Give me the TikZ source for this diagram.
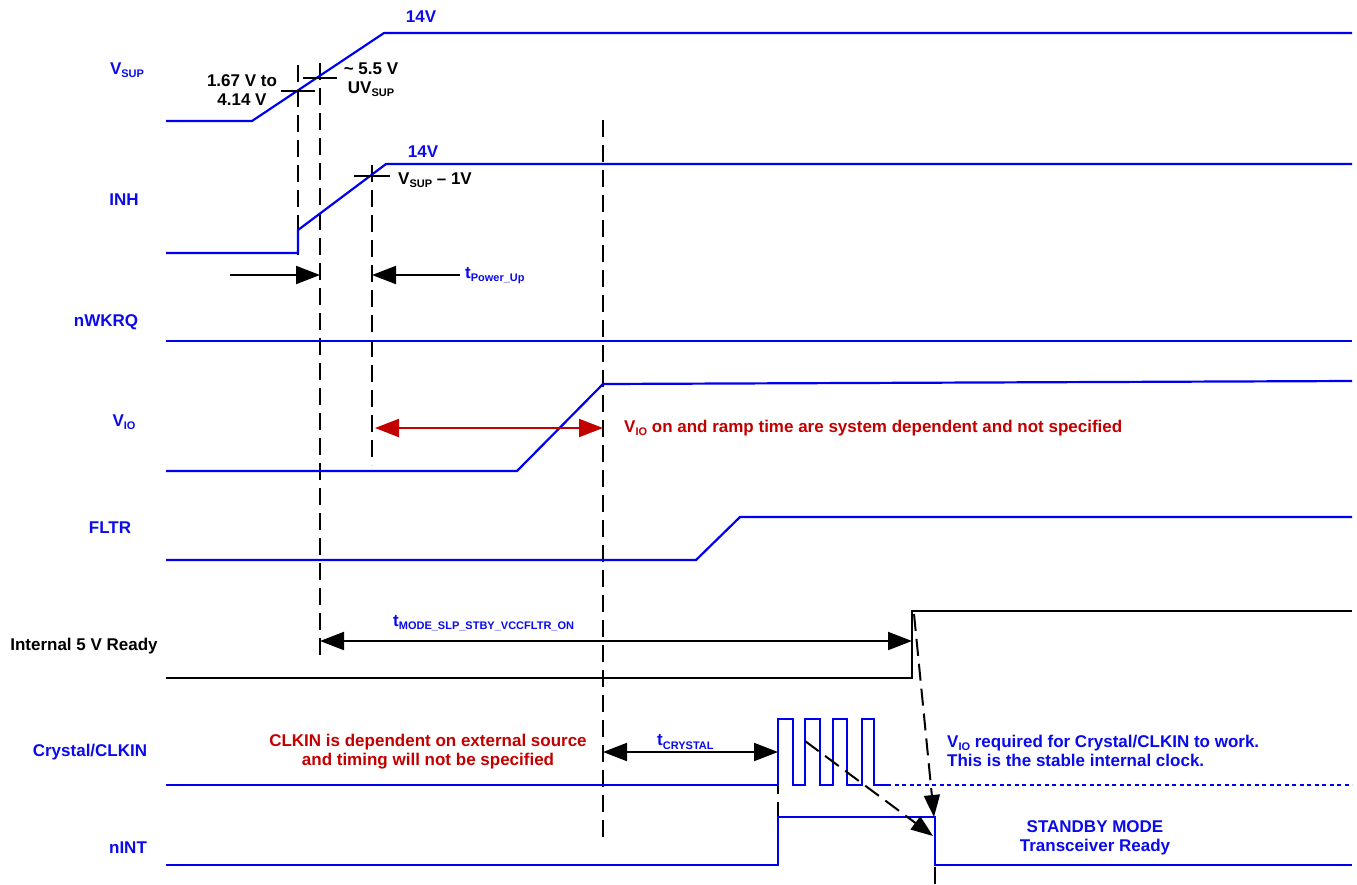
\documentclass[tikz,border=0pt]{standalone}
\usepackage{fontspec}
\setmainfont{Liberation Sans}
\usetikzlibrary{arrows.meta}
\definecolor{sigblue}{RGB}{0,0,240}
\definecolor{txtblue}{RGB}{10,10,235}
\definecolor{txtred}{RGB}{195,0,0}
\newcommand\sbb[1]{\raisebox{-0.35ex}{\fontsize{11}{11}\selectfont #1}}
\begin{document}
\begin{tikzpicture}[x=1pt,y=-1pt,
  sig/.style={draw=sigblue,line width=2.2pt},
  ksig/.style={draw=black,line width=2.2pt},
  guide/.style={draw=black,line width=2pt,dash pattern=on 17pt off 8pt},
  tickmark/.style={draw=black,line width=1.6pt},
  tip/.tip={Triangle[length=24pt,width=18pt]},
  dim/.style={draw=black,line width=2pt,{tip}-{tip}},
  onearrow/.style={draw=black,line width=2pt,-{tip}},
  lbl/.style={font=\fontsize{17}{19}\selectfont\bfseries,text=txtblue,inner sep=0pt},
  klbl/.style={lbl,text=black},
  rlbl/.style={lbl,text=txtred},
]
\useasboundingbox (0,0) rectangle (1357,884);

% signal name labels
\node[lbl] (nVSUP) at (127,70) {V\sbb{SUP}};
\node[lbl] (nINH) at (124,200) {INH};
\node[lbl] (nWK) at (106,322) {nWKRQ};
\node[lbl] (nVIO) at (124,422) {V\sbb{IO}};
\node[lbl] (nFLTR) at (110,528) {FLTR};
\node[klbl] (nINT5) at (84,646) {Internal 5 V Ready};
\node[lbl] (nCLK) at (90,752) {Crystal/CLKIN};
\node[lbl] (nnINT) at (128,848) {nINT};

% coordinates
\coordinate (g1t) at (298,65);  \coordinate (g1b) at (298,255);
\coordinate (g2t) at (320,63);  \coordinate (g2b) at (320,660);
\coordinate (g3t) at (372,165); \coordinate (g3b) at (372,465);
\coordinate (g4t) at (603,120); \coordinate (g4b) at (603,838);
\coordinate (g5t) at (778,752); \coordinate (g5b) at (778,865);
\coordinate (g6t) at (935,817); \coordinate (g6b) at (935,884);

% dashed guide lines
\draw[guide] (g1t) -- (g1b);
\draw[guide] (g2t) -- (g2b);
\draw[guide] (g3t) -- (g3b);
\draw[guide] (g4t) -- (g4b);
\draw[guide] (g5t) -- (g5b);
\draw[guide] (g6t) -- (g6b);

% VSUP
\draw[sig] (166,121) -- (252,121) -- (384,33) -- (1352,33);
\node[lbl] (v14a) at (421,17) {14V};
\draw[tickmark] (281,91) -- (315,91);
\draw[tickmark] (303,78) -- (337,78);
\node[klbl,align=center] (uvlo) at (242,90) {1.67 V to\\4.14 V};
\node[klbl,align=center] (uvsup) at (371,80) {\textasciitilde{} 5.5 V\\UV\sbb{SUP}};

% INH
\draw[sig] (166,253) -- (298,253) -- (298,230) -- (386,164) -- (1352,164);
\node[lbl] (v14b) at (423,152) {14V};
\draw[tickmark] (354,176) -- (390,176);
\node[klbl,anchor=west] (vsm1) at (398,180) {V\sbb{SUP} -- 1V};

% tPower_Up
\coordinate (pa1) at (230,275); \coordinate (pa2) at (320,275);
\coordinate (pb1) at (460,275); \coordinate (pb2) at (372,275);
\draw[onearrow] (pa1) -- (pa2);
\draw[onearrow] (pb1) -- (pb2);
\node[lbl,anchor=west] (tpu) at (465,276) {t\sbb{Power\_Up}};

% nWKRQ
\draw[sig] (166,341) -- (1352,341);

% VIO
\draw[sig] (166,471) -- (517,471) -- (603,384) -- (1352,381);
\coordinate (ra1) at (375,428); \coordinate (ra2) at (603,428);
\draw[dim,draw=txtred,fill=txtred] (ra1) -- (ra2);
\node[rlbl,anchor=west] (viotxt) at (624,428) {V\sbb{IO} on and ramp time are system dependent and not specified};

% FLTR
\draw[sig] (166,560) -- (696,560) -- (740,517) -- (1352,517);

% Internal 5 V Ready
\draw[ksig] (166,678) -- (912,678) -- (912,611) -- (1352,611);
\coordinate (ma1) at (320,641); \coordinate (ma2) at (912,641);
\draw[dim] (ma1) -- (ma2);
\node[lbl,anchor=west] (tmode) at (393,623) {t\sbb{MODE\_SLP\_STBY\_VCCFLTR\_ON}};

% Crystal/CLKIN
\draw[sig] (166,785) -- (778,785) -- (778,719) -- (793,719) -- (793,785)
  -- (805,785) -- (805,719) -- (820,719) -- (820,785)
  -- (833,785) -- (833,719) -- (847,719) -- (847,785)
  -- (862,785) -- (862,719) -- (874,719) -- (874,785) -- (887,785);
\draw[draw=sigblue,line width=2.2pt,dash pattern=on 4pt off 3.5pt] (887,785) -- (1352,785);
\coordinate (ca1) at (603,752); \coordinate (ca2) at (778,752);
\draw[dim] (ca1) -- (ca2);
\node[lbl,anchor=west] (tcry) at (657,742) {t\sbb{CRYSTAL}};
\node[rlbl,align=center] (clkintxt) at (428,752) {CLKIN is dependent on external source\\and timing will not be specified};
\node[lbl,align=left,anchor=west] (vioreq) at (947,751) {V\sbb{IO} required for Crystal/CLKIN to work.\\This is the stable internal clock.};

% nINT
\draw[sig] (166,865) -- (778,865) -- (778,817) -- (935,817) -- (935,865) -- (1352,865);
\node[lbl,align=center] (stby) at (1095,838) {STANDBY MODE\\Transceiver Ready};

% dashed cause arrows
\coordinate (da1) at (914,614); \coordinate (da2) at (934,817);
\coordinate (db1) at (805,741); \coordinate (db2) at (933,836);
\draw[guide,-{Triangle[length=22pt,width=16pt]}] (da1) -- (da2);
\draw[guide,-{Triangle[length=22pt,width=16pt]}] (db1) -- (db2);
\end{tikzpicture}
\end{document}
